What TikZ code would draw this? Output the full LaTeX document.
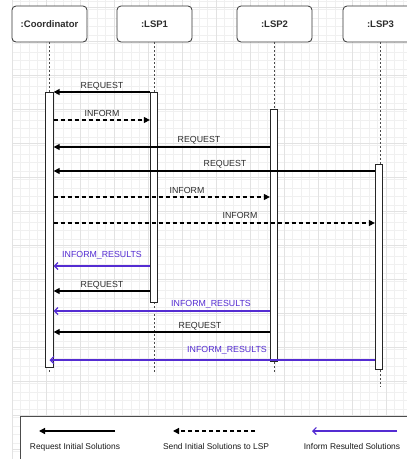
\documentclass[tikz,border=0pt]{standalone}
\usepackage{fontspec}
\setmainfont{Liberation Sans}
\usetikzlibrary{arrows.meta}
\definecolor{purp}{RGB}{84,44,210}
\definecolor{gridc}{RGB}{240,240,240}
\definecolor{gridm}{RGB}{226,226,226}
\definecolor{txt}{RGB}{45,45,45}
\begin{document}
\begin{tikzpicture}[x=1pt,y=-1pt,
  hdr/.style={draw=black!80, fill=white, rounded corners=4pt, line width=0.8pt,
    minimum width=75pt, minimum height=36pt, inner sep=0pt,
    font=\bfseries\fontsize{9.5}{11}\selectfont, text=txt},
  actbar/.style={draw=black!85, fill=white, line width=0.8pt, minimum width=7.5pt, inner sep=0pt, anchor=north},
  life/.style={draw=black!70, line width=0.6pt, dash pattern=on 2pt off 2pt},
  req/.style={draw=black, line width=1.3pt, -{Triangle[length=6pt,width=6pt]}},
  inf/.style={draw=black, line width=1.3pt, dash pattern=on 4pt off 3pt, -{Triangle[length=6pt,width=6pt]}},
  res/.style={draw=purp, line width=1.2pt, -{Straight Barb[length=3.5pt,width=7pt,line width=1.2pt]}},
  lbl/.style={font=\fontsize{8.8}{10}\selectfont, text=txt, inner sep=0pt, anchor=base},
  plbl/.style={font=\fontsize{8.8}{10}\selectfont, text=purp, inner sep=0pt, anchor=base},
  leg/.style={font=\fontsize{8.4}{10}\selectfont, text=black!90, inner sep=0pt, anchor=base}]
\clip (0,0) rectangle (407,459);
\fill[white] (0,0) rectangle (407,459);
% grid
\foreach \gx in {12,20.5,...,407} \draw[gridc, line width=0.5pt] (\gx,0) -- (\gx,459);
\foreach \gy in {1,9.5,...,459} \draw[gridc, line width=0.5pt] (12,\gy) -- (407,\gy);
\foreach \gx in {12,46,...,407} \draw[gridm, line width=0.5pt] (\gx,0) -- (\gx,459);
\foreach \gy in {7,41,...,459} \draw[gridm, line width=0.5pt] (12,\gy) -- (407,\gy);

% headers
\node[hdr] (coord) at (49.5,24) {:Coordinator};
\node[hdr] (lsp1) at (154.5,24) {:LSP1};
\node[hdr] (lsp2) at (274.5,24) {:LSP2};
\node[hdr] (lsp3) at (380.5,24) {:LSP3};

% lifeline ends
\coordinate (e0) at (0,372);
\coordinate (e3) at (0,387);
\draw[life] (coord.south) -- (coord.south |- e0);
\draw[life] (lsp1.south) -- (lsp1.south |- e0);
\draw[life] (lsp2.south) -- (lsp2.south |- e0);
\draw[life] (lsp3.south) -- (lsp3.south |- e3);

% activation bars
\node[actbar, minimum height=275pt] (cb) at (49.5,92) {};
\node[actbar, minimum height=210pt] (b1) at (154,92) {};
\node[actbar, minimum height=252pt] (b2) at (274,109) {};
\node[actbar, minimum height=205pt] (b3) at (379,164) {};

% message levels
\coordinate (y1) at (0,92);
\coordinate (y2) at (0,120);
\coordinate (y3) at (0,147);
\coordinate (y4) at (0,171);
\coordinate (y5) at (0,197);
\coordinate (y6) at (0,223);
\coordinate (y7) at (0,266);
\coordinate (y8) at (0,291);
\coordinate (y9) at (0,311);
\coordinate (y10) at (0,332);
\coordinate (y11) at (0,360);

\draw[req, line width=1.7pt] (b1.west |- y1) -- (cb.east |- y1);
\node[lbl] (l1) at (102,88.5) {REQUEST};
\draw[inf] (cb.east |- y2) -- (b1.west |- y2);
\node[lbl] (l2) at (102,116.5) {INFORM};
\draw[req] (b2.west |- y3) -- (cb.east |- y3);
\node[lbl] (l3) at (199,142.5) {REQUEST};
\draw[req] (b3.west |- y4) -- (cb.east |- y4);
\node[lbl] (l4) at (225,166.5) {REQUEST};
\draw[inf] (cb.east |- y5) -- (b2.west |- y5);
\node[lbl] (l5) at (187,193) {INFORM};
\draw[inf] (cb.east |- y6) -- (b3.west |- y6);
\node[lbl] (l6) at (240,218.5) {INFORM};
\draw[res] (b1.west |- y7) -- (cb.east |- y7);
\node[plbl] (l7) at (102,257.5) {INFORM\_RESULTS};
\draw[req] (b1.west |- y8) -- (cb.east |- y8);
\node[lbl] (l8) at (102,287) {REQUEST};
\draw[res] (b2.west |- y9) -- (cb.east |- y9);
\node[plbl] (l9) at (211,306.5) {INFORM\_RESULTS};
\draw[req] (b2.west |- y10) -- (cb.east |- y10);
\node[lbl] (l10) at (200,328.5) {REQUEST};
\draw[res] (b3.west |- y11) -- (cb.center |- y11);
\node[plbl] (l11) at (227,352) {INFORM\_RESULTS};

% legend
\draw[draw=black!70, fill=white, line width=0.9pt] (20,416) rectangle (420,470);
\coordinate (la1) at (115,431);
\coordinate (lb1) at (39,431);
\coordinate (la2) at (255,431);
\coordinate (lb2) at (173,431);
\coordinate (la3) at (397,431);
\coordinate (lb3) at (312,431);
\draw[req] (la1) -- (lb1);
\draw[inf] (la2) -- (lb2);
\draw[res] (la3) -- (lb3);
\node[leg] (t1) at (75,449) {Request Initial Solutions};
\node[leg] (t2) at (216,449) {Send Initial Solutions to LSP};
\node[leg] (t3) at (352,449) {Inform Resulted Solutions};
\end{tikzpicture}
\end{document}
